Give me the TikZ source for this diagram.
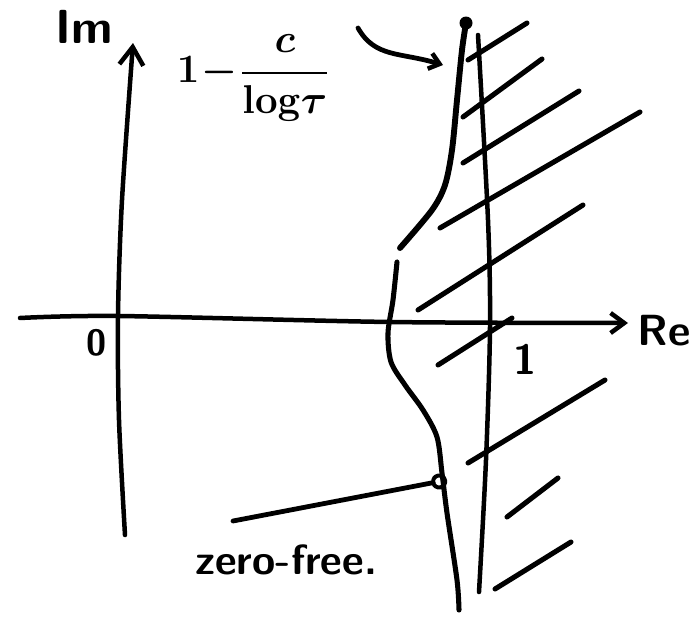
\documentclass[tikz,border=0pt]{standalone}
\usepackage{amsmath,amssymb}
\usepackage{graphicx}
\usepackage{tikz}
\usetikzlibrary{arrows.meta,calc}

\begin{document}
\begin{tikzpicture}[
x=0.025cm,y=-0.025cm,
axis/.style={line width=3.2pt,line cap=round,-{Straight Barb[length=4.5mm,width=6mm,line width=3.2pt]}},
edge/.style={line width=3.2pt,line cap=round},
zone/.style={line width=4.2pt,line cap=round},
hatch/.style={line width=3.6pt,line cap=round},
pointer/.style={line width=3.4pt,line cap=round},
label/.style={inner sep=0pt,font=\sffamily\bfseries\fontsize{30}{32}\selectfont}
]
\useasboundingbox (0,0) rectangle (692,618);

% axes
\coordinate (imfoot) at (125,535);
\coordinate (imtip) at (133,43);
\coordinate (refoot) at (20,318);
\coordinate (retip) at (628,323);
\draw[axis] plot[smooth] coordinates {(imfoot) (119,420) (118,315) (122,200) (imtip)};
\draw[axis,-{Straight Barb[length=3.4mm,width=5mm,line width=3.2pt]}]
  plot[smooth] coordinates {(refoot) (118,316) (390,322) (retip)};

\node[label,font=\sffamily\bfseries\fontsize{34}{36}\selectfont] (im) at (84,27) {Im};
\node[label,font=\sffamily\bfseries\fontsize{31}{33}\selectfont] (re) at (664,331) {Re};
\node[label,font=\sffamily\bfseries\fontsize{26}{28}\selectfont] (zero) at (97,343) {0};
\node[label] (one) at (525,359) {1};

% line Re = 1
\draw[edge] plot[smooth] coordinates {(478,35) (488,220) (490,327) (486,460) (479,592)};

% boundary of the zero-free region
\coordinate (upper) at (466,23);
\coordinate (hit) at (443,65);
\coordinate (low) at (447,480);
\fill (upper) circle (6.5);
\draw[zone] plot[smooth] coordinates {(upper) (462,50) (457,100) (452,150) (445,185) (432,210) (400,248)};
\draw[zone,line width=3.6pt] plot[smooth] coordinates {(397,262) (393,300) (388,333) (391,362) (405,385) (423,410) (437,437) (442,473) (447,513) (457,580) (459,610)};

% hatching
\foreach \ax/\ay/\bx/\by in {468/60/527/23, 463/117/542/59, 463/163/579/91,
  440/228/640/112, 418/310/583/205, 438/365/512/318, 468/463/605/380,
  507/517/558/478, 495/589/571/542}
  \draw[hatch] (\ax,\ay) -- (\bx,\by);

% labels with pointers
\node[label,font=\boldmath\fontsize{24.88}{28}\selectfont] (bound) at (253,78)
  {\scalebox{1.15}{$1\!-\!\dfrac{c}{\log\!\tau}$}};
\coordinate (boundend) at (358,28);
\draw[pointer,-{Straight Barb[length=2.5mm,width=4mm,line width=3.2pt]}]
  (boundend) .. controls (375,58) and (400,52) .. (hit);

\node[label,font=\sffamily\bfseries\fontsize{30}{32}\selectfont] (free) at (286,560) {zero-free.};
\coordinate (freeend) at (233,521);
\draw[pointer,-{Circle[open,length=4mm,line width=2.8pt]}] (freeend) -- (low);
\end{tikzpicture}
\end{document}
